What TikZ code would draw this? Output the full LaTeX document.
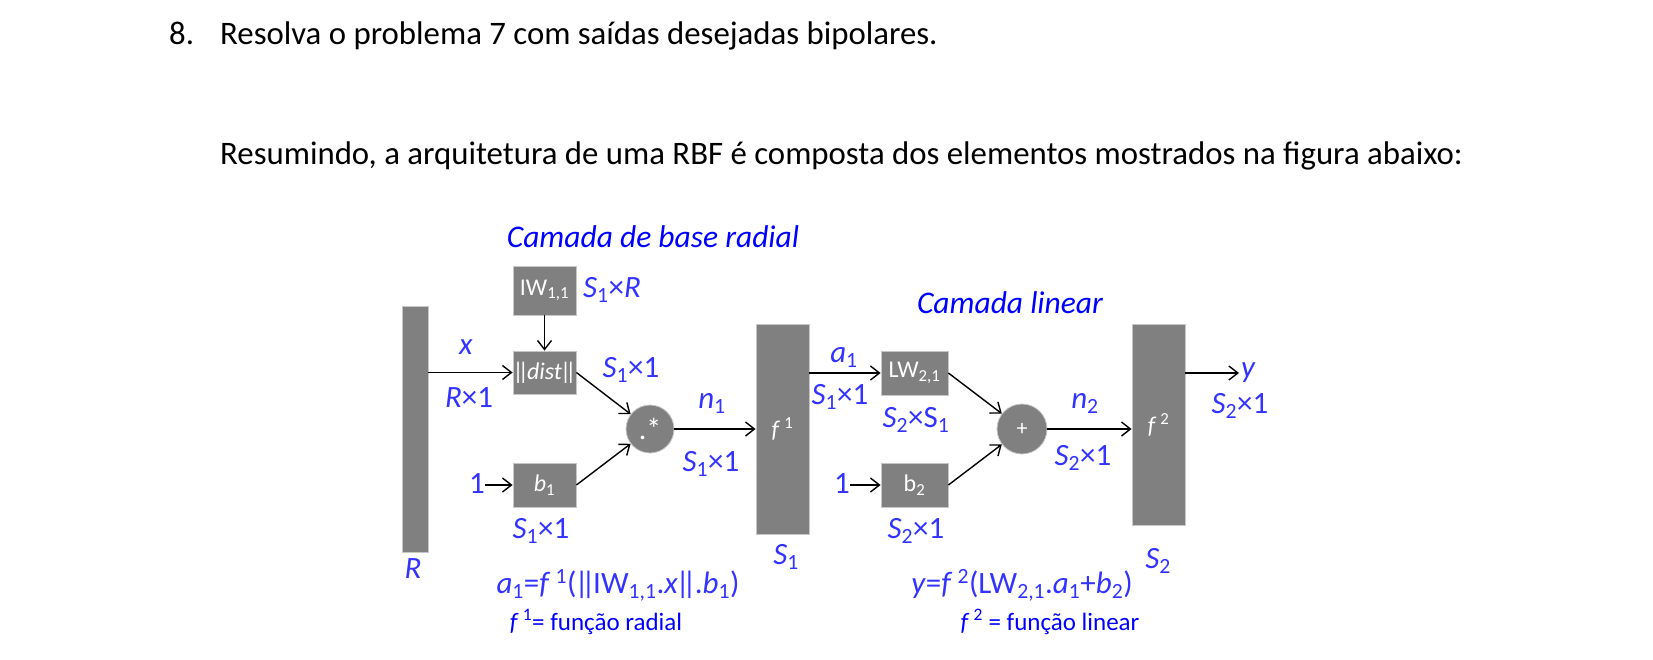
\documentclass[tikz,border=0pt]{standalone}
\usepackage{fontspec}
\setmainfont{Carlito}
\usepackage{xcolor}
\usepackage{tikz}
\usetikzlibrary{positioning, arrows.meta}

\definecolor{lblue}{RGB}{51,51,255}
\definecolor{boxgray}{RGB}{128,128,128}
\newcommand{\lsub}[1]{\textsubscript{#1}}
\newcommand{\lsup}[1]{\textsuperscript{#1}}
\newcommand{\nrm}[1]{\kern-0.06em|\kern-0.24em|\kern-0.08em#1\kern-0.08em|\kern-0.24em|\kern-0.06em}

\begin{document}
\begin{tikzpicture}[
    x=1pt, y=-1pt,
    blk/.style={fill=boxgray, draw=black!22, line width=0.8pt, text=white, inner sep=0pt, font=\fontsize{24}{28}\selectfont},
    gate/.style={blk, circle},
    lbl/.style={text=lblue, inner sep=0pt, anchor=base, font=\fontsize{31}{36}\selectfont},
    head/.style={text=blue, inner sep=0pt, anchor=base, font=\fontsize{31.5}{37}\selectfont\itshape},
    note/.style={text=blue, inner sep=0pt, anchor=base, font=\fontsize{25}{30}\selectfont},
    body/.style={inner sep=0pt, anchor=base west, font=\fontsize{32.8}{38}\selectfont},
    arrow/.style={-{Straight Barb[length=9pt, width=14pt]}, line width=1.4pt},
]
    \useasboundingbox (0,0) rectangle (1653,659);

    % enunciado
    \node[body] (num) at (169,44) {8.};
    \node[body] (task) at (220,44) {Resolva o problema 7 com saídas desejadas bipolares.};
    \node[body] (intro) at (220,164) {Resumindo, a arquitetura de uma RBF é composta dos elementos mostrados na figura abaixo:};

    % camada de base radial
    \node[blk, minimum width=26pt, minimum height=246pt] (inbar) at (415,429) {};
    \node[blk, minimum width=63pt, minimum height=49pt] (iw) at (544.5,290.5) {IW\lsub{1,1}};
    \node[blk, minimum width=63pt, minimum height=43pt] (dist) at (544.5,372.5) {\nrm{\textit{dist}}};
    \node[blk, minimum width=63pt, minimum height=44pt] (bone) at (544.5,485) {\textit{b}\lsub{1}};
    \node[gate, minimum size=48pt, font=\fontsize{30}{34}\selectfont] (mult) at (650,429) {.*};
    \node[blk, minimum width=53pt, minimum height=210pt] (fone) at (782.5,429) {\textit{f}\,\lsup{1}};
    \node[lbl] (oneA) at (477,493) {1};

    % camada linear
    \node[blk, minimum width=67pt, minimum height=44pt] (lw) at (914.5,373) {LW\lsub{2,1}};
    \node[blk, minimum width=67pt, minimum height=44pt] (btwo) at (914.5,485) {b\lsub{2}};
    \node[gate, minimum size=50pt, font=\fontsize{22}{26}\selectfont] (plus) at (1022,429) {+};
    \node[blk, minimum width=53pt, minimum height=201pt] (ftwo) at (1158.5,424.5) {\textit{f}\,\lsup{2}};
    \node[lbl] (oneB) at (842,493) {1};
    \node[lbl, anchor=base west] (yout) at (1241,377) {\textit{y}};

    % ligacoes
    \draw[arrow] (inbar.east |- dist.west) -- (dist.west);
    \draw[arrow] (iw) -- (dist);
    \draw[arrow] (dist.east) -- (mult);
    \draw[arrow] (bone.east) -- (mult);
    \draw[arrow] (oneA.east |- bone.west) -- (bone.west);
    \draw[arrow] (mult) -- (mult -| fone.west);
    \draw[arrow] (fone.east |- lw.west) -- (lw.west);
    \draw[arrow] (lw.east) -- (plus);
    \draw[arrow] (btwo.east) -- (plus);
    \draw[arrow] (oneB.east |- btwo.west) -- (btwo.west);
    \draw[arrow] (plus) -- (plus -| ftwo.west);
    \draw[arrow] (ftwo.east |- lw.west) -- ([xshift=-2pt]yout.west |- lw.west);

    % rotulos
    \node[head] (radhead) at (653,247) {Camada de base radial};
    \node[head] (linhead) at (1010,313) {Camada linear};
    \node[lbl] (iwdim) at (612,297) {\textit{S}\lsub{1}×\textit{R}};
    \node[lbl] (xlab) at (466,354) {\textit{x}};
    \node[lbl] (xdim) at (469,407) {\textit{R}×1};
    \node[lbl] (distdim) at (631,377) {\textit{S}\lsub{1}×1};
    \node[lbl] (nonelab) at (712,408) {\textit{n}\lsub{1}};
    \node[lbl] (nonedim) at (711,471) {\textit{S}\lsub{1}×1};
    \node[lbl] (bonedim) at (541,538) {\textit{S}\lsub{1}×1};
    \node[lbl] (rlab) at (413,578) {\textit{R}};
    \node[lbl] (sonelab) at (786,564) {\textit{S}\lsub{1}};
    \node[lbl] (aonelab) at (844,362) {\textit{a}\lsub{1}};
    \node[lbl] (aonedim) at (840,404) {\textit{S}\lsub{1}×1};
    \node[lbl] (lwdim) at (916,427) {\textit{S}\lsub{2}×S\lsub{1}};
    \node[lbl] (ntwolab) at (1085,408) {\textit{n}\lsub{2}};
    \node[lbl] (ntwodim) at (1083,465) {\textit{S}\lsub{2}×1};
    \node[lbl] (ydim) at (1240,413) {\textit{S}\lsub{2}×1};
    \node[lbl] (btwodim) at (916,538) {\textit{S}\lsub{2}×1};
    \node[lbl] (stwolab) at (1158,568) {\textit{S}\lsub{2}};

    % formulas
    \node[lbl] (aeq) at (618,593) {\textit{a}\lsub{1}=\textit{f}\,\lsup{1}(\nrm{IW\lsub{1,1}.\textit{x}}.\textit{b}\lsub{1})};
    \node[note] (fonenote) at (596,630) {\textit{f}\,\lsup{1}= função radial};
    \node[lbl] (yeq) at (1022,593) {\textit{y}=\textit{f}\,\lsup{2}(LW\lsub{2,1}.\textit{a}\lsub{1}+\textit{b}\lsub{2})};
    \node[note] (ftwonote) at (1050,630) {\textit{f}\,\lsup{2} = função linear};
\end{tikzpicture}
\end{document}
